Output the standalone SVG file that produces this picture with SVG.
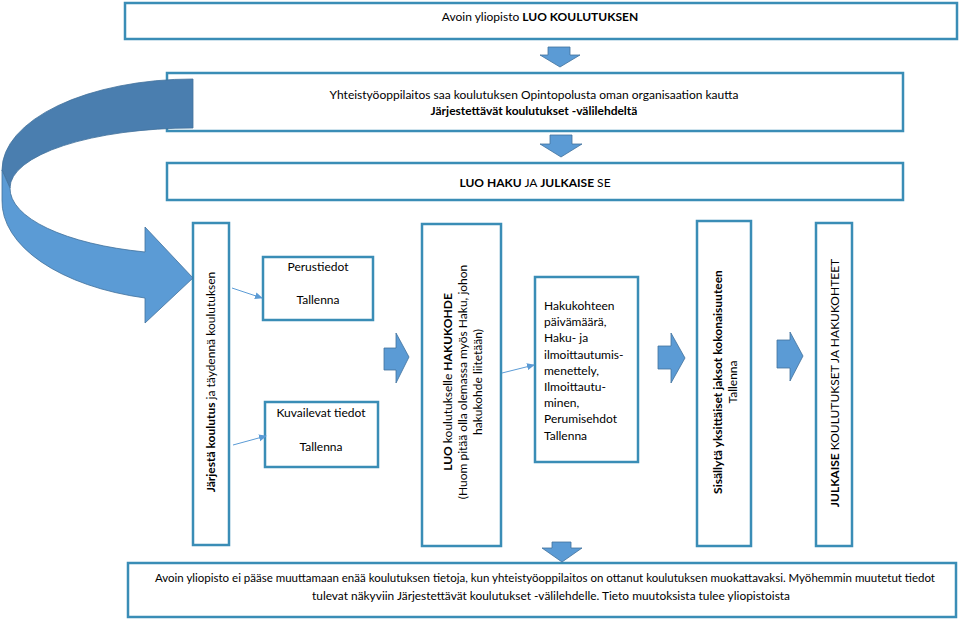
<svg xmlns="http://www.w3.org/2000/svg" width="959" height="620" viewBox="0 0 959 620">
<style>
.box{fill:#fff;stroke:#3A8DB6;stroke-width:2.5}
.t{font-family:Lato,"Open Sans","Noto Sans",sans-serif;font-size:12px;fill:#000}
.b{font-weight:bold}
.blk{fill:#5B9BD5;stroke:#41719C;stroke-width:0.8}
.thin{stroke:#5B9BD5;stroke-width:1;fill:none}
</style>
<defs>
<marker id="ah" markerWidth="8" markerHeight="8" refX="7" refY="4" orient="auto" markerUnits="userSpaceOnUse">
<path d="M0,0.5 L8,4 L0,7.5 Z" fill="#5B9BD5"/>
</marker>
</defs>
<rect width="959" height="620" fill="#fff"/>

<g id="n-top">
<rect class="box" x="125" y="3" width="832" height="36"/>
<text class="t" x="540" y="21" text-anchor="middle">Avoin yliopisto <tspan class="b">LUO KOULUTUKSEN</tspan></text>
</g>

<g id="n-yhteistyo">
<rect class="box" x="167" y="73" width="736" height="58"/>
<text class="t" x="534" y="99" text-anchor="middle">Yhteistyöoppilaitos saa koulutuksen Opintopolusta oman organisaation kautta</text>
<text class="t b" x="534" y="115" text-anchor="middle">Järjestettävät koulutukset -välilehdeltä</text>
</g>

<g id="n-luohaku">
<rect class="box" x="167" y="163" width="736" height="37"/>
<text class="t" x="535" y="187" text-anchor="middle"><tspan class="b">LUO HAKU</tspan> JA <tspan class="b">JULKAISE</tspan> SE</text>
</g>

<g id="n-jarjesta">
<rect class="box" x="193" y="223" width="36" height="322"/>
<text class="t" transform="translate(215,382) rotate(-90)" text-anchor="middle"><tspan class="b">Järjestä koulutus</tspan> ja täydennä koulutuksen</text>
</g>

<g id="n-perustiedot">
<rect class="box" x="263" y="257" width="110" height="63"/>
<text class="t" x="318" y="271" text-anchor="middle">Perustiedot</text>
<text class="t" x="318" y="304" text-anchor="middle">Tallenna</text>
</g>

<g id="n-kuvailevat">
<rect class="box" x="265" y="402" width="113" height="65"/>
<text class="t" x="321" y="417" text-anchor="middle">Kuvailevat tiedot</text>
<text class="t" x="321" y="451" text-anchor="middle">Tallenna</text>
</g>

<g id="n-hakukohde">
<rect class="box" x="422" y="224" width="79" height="322"/>
<text class="t" transform="translate(452,382) rotate(-90)" text-anchor="middle"><tspan class="b">LUO</tspan> koulutukselle <tspan class="b">HAKUKOHDE</tspan></text>
<text class="t" transform="translate(467,382) rotate(-90)" text-anchor="middle">(Huom pitää olla olemassa myös Haku, johon</text>
<text class="t" transform="translate(482,382) rotate(-90)" text-anchor="middle">hakukohde liitetään)</text>
</g>

<g id="n-hakukohteen">
<rect class="box" x="535" y="277" width="103" height="185"/>
<text class="t" x="544" y="310">Hakukohteen</text>
<text class="t" x="544" y="326.2">päivämäärä,</text>
<text class="t" x="544" y="342.4">Haku- ja</text>
<text class="t" x="544" y="358.6">ilmoittautumis-</text>
<text class="t" x="544" y="374.8">menettely,</text>
<text class="t" x="544" y="391">Ilmoittautu-</text>
<text class="t" x="544" y="407.2">minen,</text>
<text class="t" x="544" y="423.4">Perumisehdot</text>
<text class="t" x="544" y="439.6">Tallenna</text>
</g>

<g id="n-sisallyta">
<rect class="box" x="697" y="221" width="54" height="325"/>
<text class="t b" transform="translate(722,382) rotate(-90)" text-anchor="middle">Sisällytä yksittäiset jaksot kokonaisuuteen</text>
<text class="t" transform="translate(737,382) rotate(-90)" text-anchor="middle">Tallenna</text>
</g>

<g id="n-julkaise">
<rect class="box" x="816" y="223" width="36" height="323"/>
<text class="t" transform="translate(839,383) rotate(-90)" text-anchor="middle"><tspan class="b">JULKAISE</tspan> KOULUTUKSET JA HAKUKOHTEET</text>
</g>

<g id="n-bottom">
<rect class="box" x="128" y="563" width="828" height="54"/>
<text class="t" x="545" y="582" text-anchor="middle" style="font-size:11.5px" textLength="780" lengthAdjust="spacingAndGlyphs">Avoin yliopisto ei pääse muuttamaan enää koulutuksen tietoja, kun yhteistyöoppilaitos on ottanut koulutuksen muokattavaksi. Myöhemmin muutetut tiedot</text>
<text class="t" x="551" y="600" text-anchor="middle" style="font-size:11.5px" textLength="478" lengthAdjust="spacingAndGlyphs">tulevat näkyviin Järjestettävät koulutukset -välilehdelle. Tieto muutoksista tulee yliopistoista</text>
</g>

<g id="curved-arrow">
<path d="M193,79 A191 91 0 0 0 2,170 L10,188 A183 60 0 0 1 193,128 Z" fill="#4A7EAF" stroke="#41719C" stroke-width="0.8"/>
<path d="M2,170 L2,200 A191 100 0 0 0 145,298 L145,323 L193,278 L145,227 L145,252 A183 66 0 0 1 10,188 Z" class="blk"/>
</g>

<g id="connectors">
<path class="blk" d="M548,47 L570,47 L570,55 L580,55 L560,67 L540,55 L548,55 Z"/>
<path class="blk" d="M550,135 L572,135 L572,144 L582,144 L561,157 L540,144 L550,144 Z"/>
<path class="blk" d="M384,348 L396,348 L396,333 L409,357 L396,383 L396,370 L384,370 Z"/>
<path class="blk" d="M658,346 L671,346 L671,333 L685,358 L671,383 L671,369 L658,369 Z"/>
<path class="blk" d="M777,340 L790,340 L790,332 L803,356 L790,381 L790,368 L777,368 Z"/>
<path class="blk" d="M552,542 L571,542 L571,548 L582,548 L562,562 L542,548 L552,548 Z"/>
<line class="thin" x1="232" y1="288" x2="262" y2="298" marker-end="url(#ah)"/>
<line class="thin" x1="233" y1="445" x2="266" y2="436" marker-end="url(#ah)"/>
<line class="thin" x1="502" y1="373" x2="534" y2="365" marker-end="url(#ah)"/>
</g>
</svg>
